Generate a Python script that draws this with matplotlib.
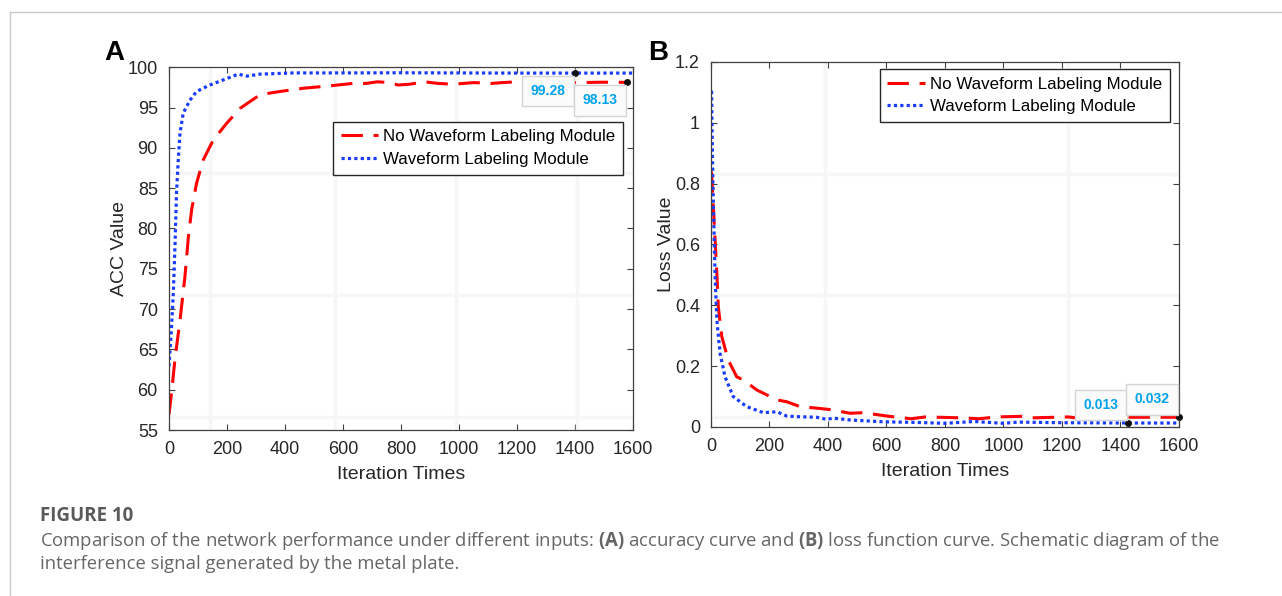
import numpy as np
import matplotlib.pyplot as plt
from matplotlib.lines import Line2D

plt.rcParams['font.family'] = ['Liberation Sans', 'DejaVu Sans']
plt.rcParams['mathtext.fontset'] = 'custom'
plt.rcParams['mathtext.bf'] = 'Open Sans:bold'
plt.rcParams['mathtext.rm'] = 'Open Sans'

# (A) accuracy curves
acc_x_no = [0, 10, 21, 38, 55, 67, 78, 95, 118, 153, 199, 245, 314, 383, 463, 555,
            634, 680, 719, 760, 790, 830, 880, 928, 980, 1051, 1112, 1150, 1198,
            1300, 1400, 1500, 1579]
acc_y_no = [56.9, 60.0, 63.9, 68.6, 74.0, 79.0, 82.3, 85.6, 88.5, 91.0, 93.05, 94.9,
            96.6, 97.0, 97.4, 97.7, 98.0, 98.0, 98.2, 98.1, 97.8, 97.9, 98.2, 98.0,
            97.9, 98.1, 98.0, 98.1, 98.2, 98.1, 98.1, 98.15, 98.13]
acc_x_wl = [0, 3, 9, 15, 21, 26, 32, 38, 49, 72, 95, 141, 199, 239, 268, 314, 429,
            600, 800, 1000, 1200, 1400, 1600]
acc_y_wl = [62.9, 64.5, 67.8, 72.0, 78.2, 84.4, 88.5, 91.8, 94.3, 95.9, 97.0, 97.8,
            98.6, 99.15, 98.9, 99.15, 99.3, 99.3, 99.32, 99.3, 99.28, 99.28, 99.28]

# (B) loss curves
loss_x_no = [0, 2, 8, 14, 20, 25, 37, 59, 88, 110, 156, 225, 259, 304, 361, 418, 475,
             521, 601, 684, 733, 855, 916, 977, 1063, 1099, 1221, 1250, 1290, 1400,
             1500, 1600]
loss_y_no = [0.84, 0.834, 0.724, 0.615, 0.505, 0.395, 0.297, 0.22, 0.165, 0.155,
             0.122, 0.089, 0.083, 0.067, 0.062, 0.056, 0.045, 0.047, 0.036, 0.027,
             0.033, 0.030, 0.027, 0.033, 0.035, 0.030, 0.033, 0.030, 0.022, 0.032,
             0.032, 0.032]
loss_x_wl = [0, 2, 6, 10, 14, 20, 31, 48, 76, 122, 179, 225, 259, 293, 361, 396, 418,
             475, 589, 700, 800, 900, 1000, 1050, 1200, 1427, 1600]
loss_y_wl = [1.1, 1.102, 0.823, 0.658, 0.494, 0.352, 0.242, 0.165, 0.1, 0.067, 0.047,
             0.05, 0.036, 0.034, 0.032, 0.025, 0.029, 0.023, 0.017, 0.015, 0.012,
             0.018, 0.012, 0.016, 0.014, 0.013, 0.013]

# data tips (x, y, label)
acc_tips = [(1400, 99.28, '99.28'), (1579, 98.13, '98.13')]
loss_tips = [(1427, 0.013, '0.013'), (1600, 0.032, '0.032')]

labels = ['No Waveform Labeling Module', 'Waveform Labeling Module']
red = '#ff0000'
blue = '#1a3cff'
axc = '#404040'
tipc = '#00a2ec'

fig = plt.figure(figsize=(12.82, 5.96), dpi=100)
axA = fig.add_axes([0.1318, 0.2785, 0.362, 0.6086])
axB = fig.add_axes([0.5546, 0.2836, 0.365, 0.6124])


def style(ax):
    ax.tick_params(direction='in', top=True, right=True, length=4, width=0.8,
                   colors=axc, labelcolor='#262626', labelsize=13, pad=8)
    ax.tick_params(which='minor', length=0)
    for s in ax.spines.values():
        s.set_color(axc)
        s.set_linewidth(0.9)
    ax.grid(which='minor', color='#f6f6f6', lw=2.5, zorder=0)
    ax.set_axisbelow(True)
    ax.set_xlim(0, 1600)
    ax.set_xticks(range(0, 1601, 200))
    ax.set_xlabel('Iteration Times', fontsize=14, color='#262626', labelpad=6)


def legend(ax, anchor):
    ax.legend(loc='upper right', bbox_to_anchor=anchor, fontsize=12.2,
              fancybox=False, edgecolor='#262626', framealpha=1, handlelength=2.2,
              handletextpad=0.3, borderpad=0.45, labelspacing=0.45,
              borderaxespad=0)


def tips(ax, pts, dy):
    for x, y, t in pts:
        ax.plot(x, y, 'o', color='#111111', ms=4, zorder=5, clip_on=False)
        ax.annotate(t, xy=(x, y), xytext=(-19.5, dy), textcoords='offset points',
                    ha='center', va='center', fontsize=10, fontweight='bold',
                    color=tipc, zorder=6,
                    bbox=dict(boxstyle='square,pad=0.6', fc='#fbfbfb',
                              ec='#d4d4d4', lw=1))


# panel A
style(axA)
axA.plot(acc_x_no, acc_y_no, color=red, lw=2.2, ls=(0, (7, 3.5)), label=labels[0])
axA.plot(acc_x_wl, acc_y_wl, color=blue, lw=2.3, ls=(0, (1, 1)), label=labels[1])
axA.set_ylim(55, 100)
axA.set_yticks(range(55, 101, 5))
axA.set_xticks([141, 571, 989, 1407], minor=True)
axA.set_yticks([56.65, 71.75, 86.85], minor=True)
axA.set_ylabel('ACC Value', fontsize=14, color='#262626', labelpad=0)
legend(axA, (0.978, 0.85))
tips(axA, acc_tips, -13)

# panel B
style(axB)
axB.plot(loss_x_no, loss_y_no, color=red, lw=2.2, ls=(0, (7, 3.5)), label=labels[0])
axB.plot(loss_x_wl, loss_y_wl, color=blue, lw=2.3, ls=(0, (1, 1)), label=labels[1])
axB.set_ylim(0, 1.2)
axB.set_yticks(np.arange(0, 1.21, 0.2))
axB.set_yticklabels(['0', '0.2', '0.4', '0.6', '0.8', '1', '1.2'])
axB.set_xticks([391, 800, 1221], minor=True)
axB.set_yticks([0.033, 0.433, 0.833], minor=True)
axB.set_ylabel('Loss Value', fontsize=14, color='#262626', labelpad=0)
legend(axB, (0.98, 0.981))
tips(axB, loss_tips, 13)

# panel letters
fig.text(114 / 1282, 1 - 53 / 596, 'A', fontsize=20, fontweight='bold',
         ha='center', va='center')
fig.text(658 / 1282, 1 - 53 / 596, 'B', fontsize=20, fontweight='bold',
         ha='center', va='center')

# page frame
fig.add_artist(Line2D([9.5 / 1282, 1], [1 - 11.5 / 596] * 2, color='#c8c8c8', lw=1))
fig.add_artist(Line2D([9.5 / 1282] * 2, [0, 1 - 11.5 / 596], color='#c8c8c8', lw=1))

# caption
cap_font = ['Open Sans', 'DejaVu Sans']
fig.text(40 / 1282, 1 - 516 / 596, 'FIGURE 10', fontsize=13.5, fontweight='bold',
         color='#5a5a5a', family=cap_font, va='center')
fig.text(40 / 1282, 1 - 541 / 596,
         'Comparison of the network performance under different inputs: '
         r'$\mathbf{(A)}$ accuracy curve and $\mathbf{(B)}$ loss function curve. '
         'Schematic diagram of the',
         fontsize=13.35, color='#666666', family=cap_font, va='center')
fig.text(40 / 1282, 1 - 564 / 596,
         'interference signal generated by the metal plate.',
         fontsize=13.35, color='#666666', family=cap_font, va='center')

fig.savefig('out.png', dpi=100)
